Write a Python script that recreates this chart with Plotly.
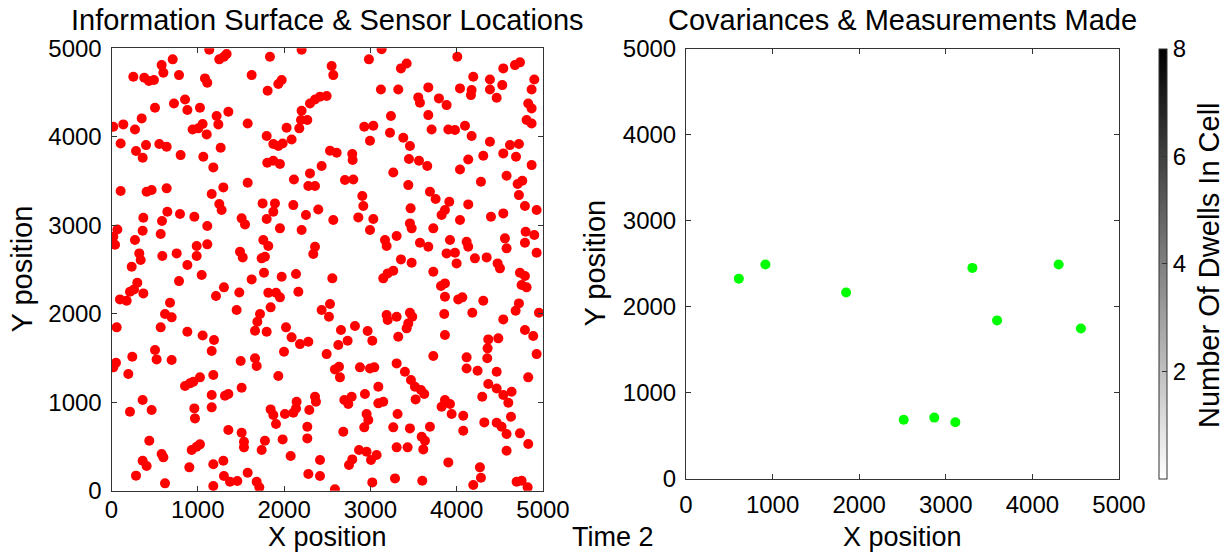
import numpy as np
import plotly.graph_objects as go

# ---- sensor locations (left panel) ----
sensor_x = [
    1133, 1249, 1303, 1334, 709, 581, 601, 253, 380, 434, 492, 782, 1083, 1110, 1624, 1836, 2203, 1933, 1972, 1809,
    504, 724, 852, 879, 1025, 350, 21, 137, 272, 940, 1006, 1056, 1103, 1218, 1238, 1354, 1578, 1798, 2029, 2176,
    2196, 2203, 2269, 2300, 2358, 2416, 1875, 1933, 1983, 2087, 106, 284, 361, 400, 554, 639, 801, 1064, 1180, 1265,
    1805, 1875, 1952, 2435, 2300, 2114, 2281, 2358, 1578, 1296, 1161, 106, 407, 465, 639, 1249, 1276, 1751, 1894, 1875,
    2107, 2396, 647, 794, 369, 585, 960, 1508, 1547, 1798, 2253, 68, 361, 570, 1110, 1952, 2203, 272, 41, 21,
    987, 1110, 1759, 1817, 2358,
    3130, 2983, 4007, 2551, 2570, 3354, 3420, 4675, 4733, 4540, 4192, 4385, 4385, 4528, 4899, 4868, 3122, 3323, 3671, 4038,
    4173, 4165, 4463, 2493, 3555, 3574, 3794, 3883, 4829, 4868, 3238, 3671, 2929, 3034, 3709, 3903, 3980, 4096, 4810, 4868,
    3227, 2995, 3381, 3458, 4173, 4385, 4617, 4721, 2532, 2609, 2790, 2794, 4540, 4687, 3447, 3563, 3659, 4308, 4134, 4038,
    4868, 3265, 4578, 2705, 2802, 3439, 4281, 4706, 4760, 3690, 3756, 2906, 2918, 4721, 3914, 3864, 3825, 4134, 4791, 4926,
    3466, 2860, 3034, 2570, 4038, 4397, 4540, 3458, 3478, 3729, 2995, 4799, 4899, 3169, 3188, 3304, 3574, 3671, 3922, 4115,
    4134, 4559, 4578, 4791,
    322, 338, 589, 755, 987, 1489, 1520, 1740, 1778, 2338, 234, 1045, 879, 782, 1624, 1767, 1972, 2138, 2165, 1303,
    1211, 1481, 1817, 1906, 1952, 1844, 98, 176, 214, 261, 299, 369, 678, 620, 697, 1450, 1721, 1690, 1663, 1798,
    2022, 2087, 2184, 2281, 60, 570, 879, 1056, 1188, 1161, 504, 523, 241, 697, 52, 21, 195, 1497, 1663, 1682,
    1999, 852, 909, 948, 1025, 1180, 1933, 361, 465, 214, 960, 967, 1161, 1161, 1315, 1354, 1508, 1844, 1875, 1906,
    2010, 2107, 2145, 2138, 2292, 2358, 2369, 1354, 1508, 1535, 1535, 1778, 1740, 1983, 2269, 2269, 438, 361, 407, 581,
    601, 929, 987, 1025, 902, 1180, 1296, 2076, 284, 620, 1180, 1303, 1373, 1458, 1578, 1682, 1713, 2281,
    3883, 3980, 4926, 3354, 3478, 4211, 4347, 4474, 4501, 3999, 2559, 3149, 3200, 3265, 3729, 4733, 4791, 4752, 4810, 3818,
    3864, 3864, 4018, 4065, 4308, 2435, 2532, 2520, 3188, 3200, 3304, 3458, 3485, 3439, 3420, 3856, 4181, 4721, 4683, 4540,
    4953, 2659, 2821, 2968, 3022, 2628, 2736, 3323, 3864, 4366, 4482, 4358, 4791, 4887, 2493, 3729, 4115, 4354, 4926, 3304,
    2589, 2636, 2647, 2879, 2995, 3045, 3400, 3470, 4115, 4242, 4463, 4829, 3516, 3586, 3624, 3524, 3092, 4366, 4463, 4540,
    4636, 2698, 2744, 2783, 2937, 3092, 3149, 4296, 3825, 3864, 3922, 4598, 3941, 4076, 3315, 2956, 2976, 2929, 4629, 4320,
    4463, 4520, 4578, 2686, 3265, 3458, 3690, 4076, 4733, 3594, 3632, 4829, 3304, 3431, 3613, 4578, 2868, 2956, 3072, 3007,
    2790, 2752, 2416, 3903, 4269, 4281, 2416, 3285, 3022, 3601, 4192, 4694, 4752, 4822, 2589,
]
sensor_y = [
    4985, 4875, 4905, 4935, 4875, 4810, 4724, 4679, 4667, 4630, 4641, 4697, 4660, 4611, 4697, 4905, 4985, 4596, 4641, 4520,
    4328, 4377, 4422, 4302, 4328, 4208, 4114, 4140, 4083, 4083, 4095, 4144, 4027, 4234, 4140, 4283, 4151, 4008, 4102, 4095,
    4189, 4294, 4189, 4377, 4422, 4453, 3918, 3895, 3925, 3970, 3925, 3839, 3763, 3906, 3918, 3888, 3793, 3775, 3654, 3876,
    3707, 3729, 3692, 3669, 3586, 3518, 3443, 3443, 3481, 3428, 3353, 3387, 3379, 3398, 3417, 3240, 3172, 3247, 3247, 3153,
    3228, 3179, 3153, 3127, 3085, 3048, 3096, 3078, 3010, 3070, 3115, 2953, 2938, 2901, 2991, 2965, 2946, 2833, 2780, 2870,
    2765, 2784, 2833, 2765, 2757,
    4990, 4875, 4905, 4799, 4697, 4773, 4829, 4810, 4841, 4773, 4679, 4648, 4535, 4584, 4648, 4535, 4535, 4535, 4558, 4547,
    4528, 4471, 4441, 4460, 4445, 4385, 4434, 4358, 4377, 4321, 4234, 4245, 4114, 4125, 4083, 4083, 4076, 4125, 4189, 4151,
    4046, 3955, 3989, 3895, 4008, 3944, 3906, 3918, 3842, 3820, 3805, 3737, 3812, 3775, 3748, 3729, 3669, 3786, 3744, 3631,
    3680, 3597, 3560, 3511, 3518, 3454, 3492, 3466, 3503, 3379, 3296, 3330, 3217, 3341, 3266, 3172, 3115, 3236, 3217, 3172,
    3191, 3089, 3070, 3059, 3059, 3096, 3134, 3021, 2965, 2965, 2946, 2927, 2889, 2833, 2765, 2878, 2803, 2757, 2833, 2814,
    2757, 2852, 2739, 2803,
    2682, 2607, 2652, 2682, 2652, 2701, 2637, 2626, 2644, 2675, 2531, 2437, 2550, 2369, 2388, 2464, 2418, 2449, 2249, 2298,
    2200, 2241, 2238, 2238, 2185, 2072, 2162, 2147, 2249, 2275, 2351, 2230, 2125, 1997, 1959, 2042, 1997, 1910, 1808, 1797,
    1846, 1733, 1657, 1684, 1846, 1846, 1797, 1755, 1703, 1578, 1590, 1484, 1514, 1477, 1447, 1394, 1318, 1465, 1496, 1409,
    1571, 1183, 1213, 1232, 1281, 1307, 1296, 1025, 912, 893, 930, 817, 1081, 942, 1074, 1092, 1164, 919, 855, 753,
    866, 881, 1006, 930, 912, 1062, 1006, 686, 655, 554, 490, 565, 460, 580, 723, 591, 565, 339, 279, 414,
    377, 460, 497, 524, 264, 298, 339, 392, 170, 83, 53, 166, 102, 109, 203, 102, 38, 188,
    2682, 2690, 2690, 2614, 2577, 2626, 2637, 2569, 2513, 2569, 2400, 2400, 2456, 2486, 2475, 2464, 2426, 2324, 2298, 2313,
    2343, 2192, 2162, 2185, 2147, 2042, 2110, 1966, 1985, 1929, 1966, 2012, 1966, 1891, 1835, 1997, 2012, 2117, 2034, 1936,
    2012, 1816, 1861, 1804, 1695, 1646, 1695, 1740, 1759, 1710, 1722, 1609, 1816, 1748, 1544, 1522, 1507, 1496, 1544, 1439,
    1371, 1401, 1281, 1394, 1382, 1394, 1345, 1251, 1382, 1356, 1345, 1281, 1175, 1138, 1092, 1032, 1175, 1205, 1156, 1081,
    1119, 1025, 979, 1062, 1092, 987, 1006, 1062, 949, 1025, 979, 994, 866, 848, 866, 866, 799, 716, 836, 772,
    768, 723, 640, 667, 716, 704, 723, 678, 648, 610, 565, 527, 490, 490, 467, 452, 460, 441, 403, 347,
    354, 290, 347, 320, 264, 147, 166, 139, 94, 113, 64, 102, 113, 38, 15,
]

# ---- measurements made (right panel) ----
meas_x = [610, 917, 1849, 2514, 2867, 3110, 3307, 3592, 4303, 4560]
meas_y = [2325, 2490, 2165, 685, 710, 656, 2450, 1840, 2490, 1745]

# ---- dwell counts per grid cell (all cells empty at this time step) ----
cell_centers = [250, 750, 1250, 1750, 2250, 2750, 3250, 3750, 4250, 4750]
dwell_counts = np.zeros((len(cell_centers), len(cell_centers)))
dwell_min, dwell_max = 0, 8
dwell_ticks = [2, 4, 6, 8]

axis_ticks = [0, 1000, 2000, 3000, 4000, 5000]

W, H = 1224, 553
FONT = "Liberation Sans, Arial, Helvetica, sans-serif"


def fx(px):
    return px / W


def fy(py):
    return 1 - py / H


fig = go.Figure()

fig.add_trace(go.Heatmap(
    x=cell_centers, y=cell_centers, z=dwell_counts,
    zmin=dwell_min, zmax=dwell_max,
    colorscale=[[0, "#ffffff"], [1, "#000000"]],
    xaxis="x2", yaxis="y2", hoverinfo="skip",
    colorbar=dict(
        thickness=8, thicknessmode="pixels",
        len=478.7 - 48.3, lenmode="pixels",
        x=fx(1159), xanchor="left", xpad=0,
        y=fy(478.7), yanchor="bottom", ypad=0,
        tickvals=dwell_ticks, ticks="inside", ticklen=5,
        tickcolor="#333333", outlinecolor="#333333", outlinewidth=1,
        tickfont=dict(family=FONT, size=24, color="black"),
    ),
))

fig.add_trace(go.Scatter(
    x=sensor_x, y=sensor_y, mode="markers",
    marker=dict(color="#ff0000", size=10, line=dict(width=0)),
    xaxis="x", yaxis="y", showlegend=False, hoverinfo="skip",
))

fig.add_trace(go.Scatter(
    x=meas_x, y=meas_y, mode="markers",
    marker=dict(color="#00ff00", size=10, line=dict(width=0)),
    xaxis="x2", yaxis="y2", showlegend=False, hoverinfo="skip",
))

axis_style = dict(
    range=[0, 5000], tickvals=axis_ticks, ticks="inside", ticklen=5,
    tickcolor="#333333", showline=True, linecolor="#333333", linewidth=1,
    mirror="ticks", showgrid=False, zeroline=False,
    tickfont=dict(family=FONT, size=24, color="black"),
)

fig.update_layout(
    width=W, height=H,
    margin=dict(l=0, r=0, t=0, b=0, pad=0, autoexpand=False),
    paper_bgcolor="white", plot_bgcolor="white",
    showlegend=False,
    xaxis=dict(domain=[fx(111.5), fx(543)], anchor="y", ticklabelstandoff=-3, **axis_style),
    yaxis=dict(domain=[fy(490.7), fy(48.3)], anchor="x", ticklabelstandoff=4, **axis_style),
    xaxis2=dict(domain=[fx(686), fx(1119)], anchor="y2", ticklabelstandoff=4, **axis_style),
    yaxis2=dict(domain=[fy(478.7), fy(48.5)], anchor="x2", ticklabelstandoff=4, **axis_style),
)

# titles and side labels, centred on their position
labels = [
    ("Information Surface & Sensor Locations", 327.3, 20, 0),
    ("Covariances & Measurements Made", 902.5, 20, 0),
    ("Y position", 22, 269.5, -90),
    ("Y position", 595, 263.6, -90),
    ("Number Of Dwells In Cell", 1209, 265, -90),
]
for text, px, py, ang in labels:
    fig.add_annotation(
        text=text, x=fx(px), y=fy(py), xref="paper", yref="paper",
        xanchor="center", yanchor="middle", showarrow=False, textangle=ang,
        borderpad=0, font=dict(family=FONT, size=29, color="black"),
    )

# labels along the bottom edge, sitting on the page's lower border
bottom_labels = [
    ("X position", 327.3),
    ("X position", 902.5),
    ("Time 2", 613),
]
for text, px in bottom_labels:
    fig.add_annotation(
        text=text, x=fx(px), y=0, xref="paper", yref="paper",
        xanchor="center", yanchor="bottom", showarrow=False,
        borderpad=0, font=dict(family=FONT, size=27, color="black"),
    )

fig.write_html("out.html")
